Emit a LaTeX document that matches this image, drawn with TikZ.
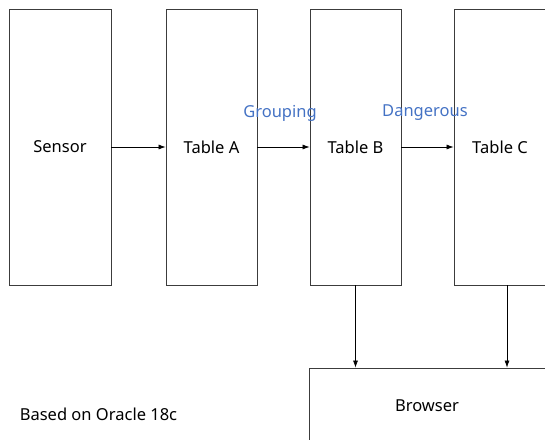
\documentclass[tikz,border=0pt]{standalone}
\usepackage{fontspec}
\setmainfont{Noto Sans}
\usetikzlibrary{arrows.meta}
\definecolor{lbl}{RGB}{68,114,196}
\definecolor{edge}{RGB}{60,60,60}
\begin{document}
\begin{tikzpicture}[x=1pt,y=1pt,
  box/.style={draw=edge,line width=0.9pt,rectangle,inner sep=0pt,font=\fontsize{16.5}{19}\selectfont},
  conn/.style={draw=black,line width=0.6pt,-{Latex[length=7pt,width=5pt]}},
  lab/.style={text=lbl,font=\fontsize{16.5}{19}\selectfont,inner sep=0pt}]
\useasboundingbox (0,0) rectangle (545,-439);
\clip (0,0) rectangle (545,-439);
\node[box,minimum width=102pt,minimum height=276pt] (sensor) at (60,-147) {Sensor};
\node[box,minimum width=91pt,minimum height=276pt] (ta) at (211.5,-147) {Table A};
\node[box,minimum width=91pt,minimum height=276pt] (tb) at (355.5,-147) {Table B};
\node[box,minimum width=92pt,minimum height=276pt] (tc) at (500,-147) {Table C};
\node[box,minimum width=236pt,minimum height=76pt] (br) at (427,-406) {Browser};
\draw[conn] (sensor.east) -- (ta.west);
\draw[conn] (ta.east) -- (tb.west);
\draw[conn] (tb.east) -- (tc.west);
\draw[conn] (tb.south) -- (tb.south |- br.north);
\coordinate (cx) at (507,0);
\draw[conn] (cx |- tc.south) -- (cx |- br.north);
\node[lab] (g) at (280,-113) {Grouping};
\node[lab] (d) at (425,-113) {Dangerous};
\node[inner sep=0pt,font=\fontsize{16.5}{19}\selectfont] (note) at (98.5,-414) {Based on Oracle 18c};
\end{tikzpicture}
\end{document}
